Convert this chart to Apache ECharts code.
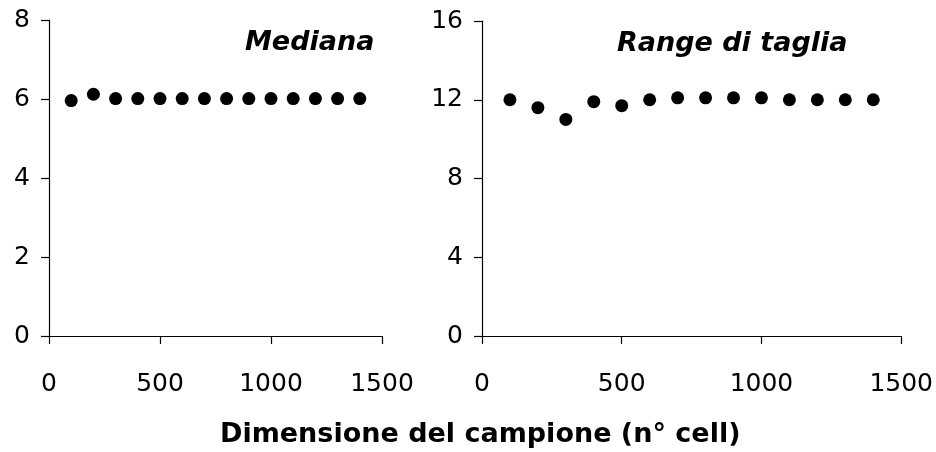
<!DOCTYPE html>
<html>
<head>
<meta charset="utf-8">
<script src="https://cdn.jsdelivr.net/npm/echarts@6/dist/echarts.min.js"></script>
<style>
  html, body { margin: 0; padding: 0; background: #fff; }
  #chart { width: 936px; height: 452px; }
</style>
</head>
<body>
<div id="chart"></div>
<script>
// sample size (n° cell)
const sampleSizes = [100, 200, 300, 400, 500, 600, 700, 800, 900, 1000, 1100, 1200, 1300, 1400]
// Mediana
const medianValues = [5.96, 6.12, 6.01, 6.01, 6.01, 6.01, 6.01, 6.01, 6.01, 6.01, 6.01, 6.01, 6.01, 6.01]
// Range di taglia
const rangeValues = [12.0, 11.6, 11.0, 11.9, 11.7, 12.0, 12.1, 12.1, 12.1, 12.1, 12.0, 12.0, 12.0, 12.0]

const panelTitles = ['Mediana', 'Range di taglia']
const xTitle = 'Dimensione del campione (n° cell)'

// the picture is a bit wide, DejaVu fits its letter widths better than Arial
const font = '"DejaVu Sans", "Liberation Sans", Arial, sans-serif'

function pairs(xs, ys) {
  return xs.map((x, i) => [x, ys[i]])
}

function xAxisOf(idx) {
  return {
    gridIndex: idx,
    type: 'value',
    min: 0,
    max: 1500,
    interval: 500,
    splitLine: { show: false },
    axisLine: { onZero: false, lineStyle: { color: '#000', width: 1.2 } },
    axisTick: { inside: false, length: 8, lineStyle: { color: '#000', width: 1.2 } },
    axisLabel: {
      color: '#000', fontSize: 25, fontFamily: font, margin: 36,
      formatter: v => String(v)
    }
  }
}

function yAxisOf(idx, max, interval) {
  return {
    gridIndex: idx,
    type: 'value',
    min: 0,
    max: max,
    interval: interval,
    splitLine: { show: false },
    axisLine: { show: true, lineStyle: { color: '#000', width: 1.2 } },
    axisTick: { show: true, inside: false, length: 8, lineStyle: { color: '#000', width: 1.2 } },
    axisLabel: { color: '#000', fontSize: 25, fontFamily: font, margin: 19 }
  }
}

const chart = echarts.init(document.getElementById('chart'), null, { renderer: 'canvas' })

chart.setOption({
  backgroundColor: '#fff',
  animation: false,
  title: [
    {
      text: panelTitles[0],
      left: 245,
      top: 29,
      padding: 0,
      textStyle: { fontSize: 27, fontWeight: 'bold', fontStyle: 'italic', fontFamily: font, color: '#000' }
    },
    {
      text: panelTitles[1],
      left: 617,
      top: 30,
      padding: 0,
      textStyle: { fontSize: 27, fontWeight: 'bold', fontStyle: 'italic', fontFamily: font, color: '#000' }
    },
    {
      text: xTitle,
      left: 220,
      top: 421,
      padding: 0,
      textStyle: { fontSize: 27, fontWeight: 'bold', fontFamily: font, color: '#000' }
    }
  ],
  grid: [
    { left: 49, right: 554, top: 20, bottom: 116 },
    { left: 482, right: 33, top: 21, bottom: 116 }
  ],
  xAxis: [xAxisOf(0), xAxisOf(1)],
  yAxis: [yAxisOf(0, 8, 2), yAxisOf(1, 16, 4)],
  series: [
    {
      type: 'scatter',
      xAxisIndex: 0,
      yAxisIndex: 0,
      symbol: 'circle',
      symbolSize: 13,
      itemStyle: { color: '#000', opacity: 1 },
      data: pairs(sampleSizes, medianValues)
    },
    {
      type: 'scatter',
      xAxisIndex: 1,
      yAxisIndex: 1,
      symbol: 'circle',
      symbolSize: 13,
      itemStyle: { color: '#000', opacity: 1 },
      data: pairs(sampleSizes, rangeValues)
    }
  ]
})
</script>
</body>
</html>
